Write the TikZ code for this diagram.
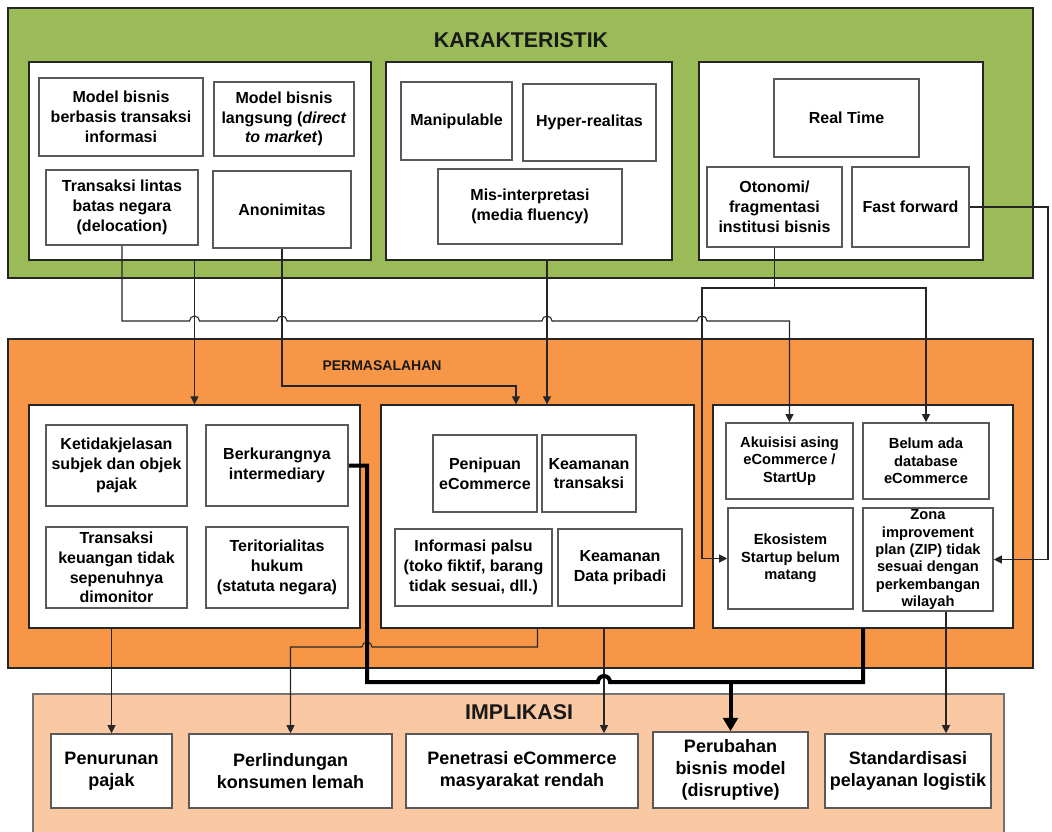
\documentclass[tikz,border=0pt]{standalone}
\usepackage{fontspec}
\setmainfont{Liberation Sans}
\usetikzlibrary{arrows.meta,calc}
\definecolor{kgreen}{RGB}{155,187,89}
\definecolor{korange}{RGB}{247,150,70}
\definecolor{kpeach}{RGB}{250,201,163}
\tikzset{
 px/.style 2 args={minimum width=#1*0.75pt, minimum height=#2*0.75pt},
 region/.style={draw=black!85, line width=1pt, inner sep=0pt},
 panel/.style={draw=black!85, line width=1pt, fill=white, inner sep=0pt},
 bx/.style={draw=black!65, line width=1.2pt, fill=white, align=center, inner sep=1pt, text=black, font=\bfseries\fontsize{12}{14.8}\selectfont},
 bxs/.style={bx, font=\bfseries\fontsize{11}{13}\selectfont},
 bxl/.style={bx, font=\bfseries\fontsize{13.5}{16.3}\selectfont},
 ttl/.style={font=\bfseries\fontsize{16}{19}\selectfont, text=black!90, inner sep=0pt},
 ln/.style={draw=black!85, line width=0.8pt},
 arr/.style={ln, -{Triangle[length=6pt,width=6pt]}},
 thk/.style={draw=black, line width=3pt},
 thkarr/.style={thk, -{Triangle[length=10pt,width=11pt]}},
}
\begin{document}
\begin{tikzpicture}[x=0.75pt,y=-0.75pt]
\clip (0,0) rectangle (1052,831);
\fill[white] (0,0) rectangle (1052,831);

% ---------- KARAKTERISTIK ----------
\node[region, fill=kgreen, px={1025}{270}] (gK) at (520.5,143) {};
\node[ttl] (tK) at (521,40) {KARAKTERISTIK};
\node[panel, px={342}{198}] (pA) at (200,161) {};
\node[panel, px={286}{198}] (pB) at (529,161) {};
\node[panel, px={284}{198}] (pC) at (841,161) {};
\node[bx, px={164}{78}] (A1) at (121,117) {Model bisnis\\berbasis transaksi\\informasi};
\node[bx, px={140}{74}] (A2) at (284,119) {Model bisnis\\langsung (\textit{direct}\\\textit{to market})};
\node[bx, px={152}{75}] (A3) at (122,207.5) {Transaksi lintas\\batas negara\\(delocation)};
\node[bx, px={138}{77}] (A4) at (282,209.5) {Anonimitas};
\node[bx, px={111}{78}] (B1) at (456.5,121) {Manipulable};
\node[bx, px={133}{77}] (B2) at (589.5,122.5) {Hyper-realitas};
\node[bx, px={184}{75}] (B3) at (530,206.5) {Mis-interpretasi\\(media fluency)};
\node[bx, px={145}{78}] (C1) at (846.5,118) {Real Time};
\node[bx, px={135}{80}] (C2) at (774.5,207) {Otonomi/\\fragmentasi\\institusi bisnis};
\node[bx, px={117}{80}] (C3) at (910.5,207) {Fast forward};

% ---------- PERMASALAHAN ----------
\node[region, fill=korange, px={1025}{329}] (gP) at (520.5,503.5) {};
\node[font=\bfseries\fontsize{10.5}{12}\selectfont, inner sep=0pt, text=black!90] (tP) at (382,366) {PERMASALAHAN};
\node[panel, px={331}{223}] (pD) at (194.5,516.5) {};
\node[panel, px={313}{223}] (pE) at (537.5,516.5) {};
\node[panel, px={300}{223}] (pF) at (863,516.5) {};
\node[bx, px={141}{81}] (D1) at (116.5,465.5) {Ketidakjelasan\\subjek dan objek\\pajak};
\node[bx, px={142}{81}] (D2) at (277,465.5) {Berkurangnya\\intermediary};
\node[bx, px={141}{81}] (D3) at (116.5,567.5) {Transaksi\\keuangan tidak\\sepenuhnya\\dimonitor};
\node[bx, px={142}{81}] (D4) at (277,567.5) {Teritorialitas\\hukum\\(statuta negara)};
\node[bx, px={104}{77}] (E1) at (485,473.5) {Penipuan\\eCommerce};
\node[bx, px={94}{77}] (E2) at (589,473.5) {Keamanan\\transaksi};
\node[bx, px={157}{77}] (E3) at (473.5,567.5) {Informasi palsu\\(toko fiktif, barang\\tidak sesuai, dll.)};
\node[bx, px={124}{77}] (E4) at (620,567.5) {Keamanan\\Data pribadi};
\node[bxs, px={127}{76}] (F1) at (789.5,461) {Akuisisi asing\\eCommerce /\\StartUp};
\node[bxs, px={126}{76}] (F2) at (926,461) {Belum ada\\database\\eCommerce};
\node[bxs, px={125}{101}] (F3) at (790.5,558.5) {Ekosistem\\Startup belum\\matang};
\node[bxs, px={130}{103}] (F4) at (928,559.5) {Zona\\improvement\\plan (ZIP) tidak\\sesuai dengan\\perkembangan\\wilayah};

% ---------- IMPLIKASI ----------
\node[region, draw=black!55, fill=kpeach, px={971}{151}] (gI) at (518.5,769.5) {};
\node[ttl] (tI) at (519,712) {IMPLIKASI};
\node[bxl, px={121}{74}] (P1) at (111.5,771) {Penurunan\\pajak};
\node[bxl, px={203}{74}] (P2) at (290.5,771) {Perlindungan\\konsumen lemah};
\node[bxl, px={232}{74}] (P3) at (522,771) {Penetrasi eCommerce\\masyarakat rendah};
\node[bxl, px={155}{76}] (P4) at (730.5,770) {Perubahan\\bisnis model\\(disruptive)};
\node[bxl, px={166}{74}] (P5) at (908,771) {Standardisasi\\pelayanan logistik};

% ---------- helper coordinates ----------
\coordinate (h1) at (0,321);
\coordinate (k3) at (516,386);
\coordinate (x547) at (547,0);
\coordinate (y288) at (0,288);
\coordinate (k5) at (702,288);
\coordinate (k6) at (1048,400);
\coordinate (k7) at (367,682);
\coordinate (k9) at (0,647);
\coordinate (x604) at (604,0);
\coordinate (x946) at (946,0);

% ---------- connectors ----------
\draw[arr] (A3.south) -- (A3.south |- h1) -- (189.5,321)
  arc[start angle=180,end angle=0,radius=3.75pt] -- (277,321)
  arc[start angle=180,end angle=0,radius=3.75pt] -- (542,321)
  arc[start angle=180,end angle=0,radius=3.75pt] -- (697,321)
  arc[start angle=180,end angle=0,radius=3.75pt] -- (F1.north |- h1) -- (F1.north);
\draw[arr] (pA.south -| pD.north) -- (pD.north);
\draw[arr] (A4.south) |- (k3) -- (pE.north -| k3);
\draw[arr] (pB.south -| x547) -- (pE.north -| x547);
\draw[arr] (C2.south) |- (k5) |- (F3.west);
\draw[arr] (C2.south |- y288) -| (F2.north);
\draw[arr] (C3.east) -| (k6) |- (F4.east);

\draw[arr] (pD.south -| P1.north) -- (P1.north);
\draw[arr] (pE.south) -- (pE.south |- k9) -- (372,647)
  arc[start angle=0,end angle=180,radius=3.75pt] -- (P2.north |- k9) -- (P2.north);
\draw[arr] (pE.south -| x604) -- (P3.north -| x604);
\draw[arr] (F4.south -| x946) -- (P5.north -| x946);

\draw[thk] (D2.east) -| (k7) -- (598,682)
  arc[start angle=180,end angle=0,radius=4.5pt] -- (pF.south |- k7) -- (pF.south);
\draw[thkarr] (P4.north |- k7) -- (P4.north);
\end{tikzpicture}
\end{document}
